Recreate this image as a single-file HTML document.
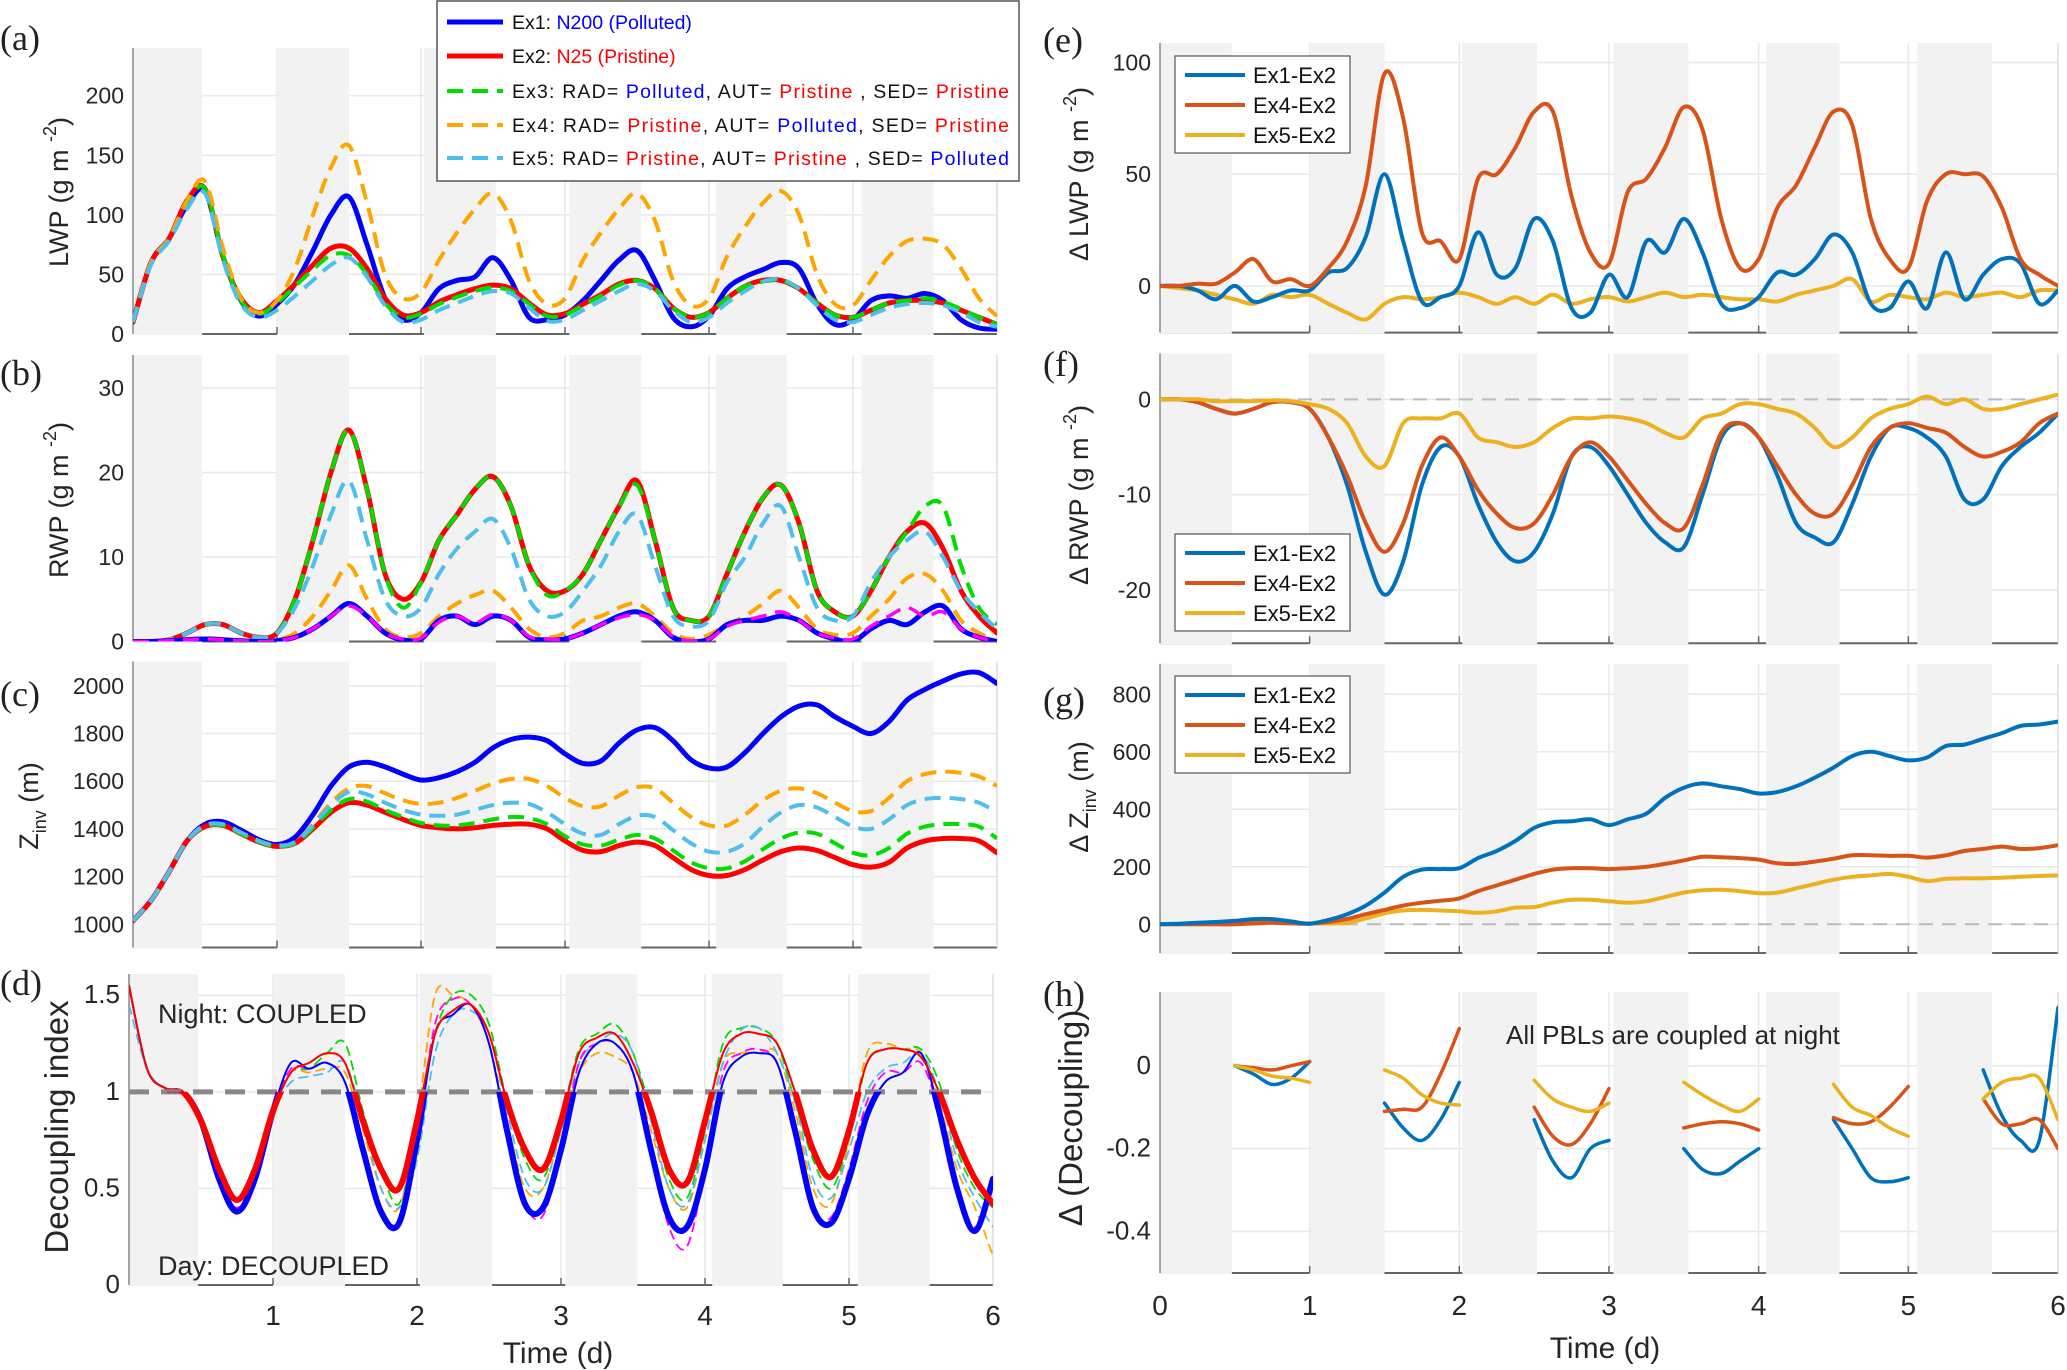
<!DOCTYPE html>
<html><head><meta charset="utf-8">
<style>
html,body{margin:0;padding:0;background:#fff;}
svg{display:block;font-family:"Liberation Sans",sans-serif;}
</style></head>
<body>
<svg id="fig" width="2067" height="1370" viewBox="0 0 2067 1370" xmlns="http://www.w3.org/2000/svg"></svg>
<script>
const T=[0,0.125,0.25,0.375,0.5,0.625,0.75,0.875,1,1.125,1.25,1.375,1.5,1.625,1.75,1.875,2,2.125,2.25,2.375,2.5,2.625,2.75,2.875,3,3.125,3.25,3.375,3.5,3.625,3.75,3.875,4,4.125,4.25,4.375,4.5,4.625,4.75,4.875,5,5.125,5.25,5.375,5.5,5.625,5.75,5.875,6];
const nightBands=[[0,0.48],[1,1.5],[2.02,2.52],[3.03,3.53],[4.05,4.54],[5.06,5.56]];
// (a) LWP
const aEx1=[10,60,80,108,120,65,28,15,25,42,70,100,115,75,30,12,18,38,45,48,64,45,14,12,16,28,45,62,70,45,14,6,15,38,48,54,60,55,25,8,12,28,32,30,34,28,12,5,4];
const aEx2=[10,60,80,112,122,65,30,18,28,42,58,72,72,55,30,16,18,27,33,38,41,38,26,16,17,25,33,42,45,38,22,14,18,30,40,45,45,38,26,16,14,20,26,28,28,26,20,14,8];
const aEx3=[10,60,80,110,122,66,28,17,26,40,54,66,66,50,26,14,17,25,31,36,39,36,25,15,16,24,32,41,45,38,22,14,18,30,40,44,45,38,26,16,14,20,26,28,30,27,21,14,8];
const aEx4=[10,60,80,112,128,72,30,18,28,55,100,140,158,110,50,30,35,62,85,105,118,95,45,25,30,62,85,105,118,95,45,24,30,65,90,110,120,100,50,25,24,45,65,78,80,75,55,30,15];
const aEx5=[10,58,78,105,118,62,25,14,20,32,45,58,64,48,24,10,12,20,26,32,36,34,22,11,12,20,28,36,42,36,20,10,14,26,36,44,46,38,24,12,10,16,22,25,26,24,18,10,6];
const aTicks=[0,50,100,150,200];
// (b) RWP
const bEx1=[0,0,0.1,0.2,0.3,0.2,0.1,0,0.1,0.5,1.5,3,4.5,3,1,0.2,0.3,2.5,3,2,3,2.5,0.5,0.2,0.3,1,2,3,3.5,2.5,0.5,0,0.3,2,2.5,2.5,3,2.5,1,0.3,0,1.5,2.5,2,3.5,4.2,1.5,0.5,0];
const bMag=[0,0,0.1,0.2,0.3,0.2,0.1,0,0.1,0.5,1.5,3,4.2,3,1,0.3,0.4,2.3,3,2.2,3.2,2.5,0.6,0.3,0.3,1,2,2.8,3.2,2.5,0.6,0.1,0.3,1.8,2.5,3,3.5,2.5,1,0.4,0.3,1.8,3,4,3,3.5,1.5,0.5,0];
const bEx2=[0,0,0.2,1,2,2,1,0.5,1,5,12,20,25,18,8,5,7,12,15,18,19.5,16,9,6,6,8,12,16,19,12,4,2.5,3,8,13,17,18.5,14,6,3.5,3,6,10,13,14,11,6,3,1];
const bEx3=[0,0,0.2,1,2,2,1,0.5,1,5,12,20,25,18,8,4,7,12,15,18,19.5,16,9,5.5,6,8,12,16,18.5,12,4,2.5,3,8,13,17,18.5,14,6,3.5,3,6,10,13,16,16,9,4,2];
const bEx4=[0,0,0.1,0.3,0.4,0.3,0.1,0,0.2,1,3,6,9,5,1.5,0.5,1,3,4.5,5.5,6,4,1.5,0.5,1,2.5,3,4,4.5,3,1,0.3,0.8,2,3,4.5,6,4,1.5,0.8,1,3,5,7.5,8,6,2.5,1,0];
const bEx5=[0,0,0.2,1,2,2,1,0.5,1,4,9,15,19,12,5,3,4,8,11,13,14.5,11,5,3,3.5,6,9,13,15,9,3,1.8,2.5,7,10,14,16,10,4,2.5,3,7,10,12,13,10,6,3.5,1.5];
const bTicks=[0,10,20,30];
// (c) Zinv
const cEx1=[1015,1100,1220,1350,1420,1430,1395,1355,1335,1365,1460,1580,1660,1680,1660,1630,1605,1615,1640,1680,1740,1775,1785,1770,1715,1675,1685,1760,1815,1825,1770,1690,1655,1660,1720,1800,1870,1915,1920,1870,1830,1800,1850,1940,1985,2020,2050,2055,2010];
const cEx2=[1015,1100,1220,1350,1410,1415,1380,1345,1327,1340,1400,1470,1510,1500,1470,1440,1415,1405,1400,1405,1415,1420,1420,1400,1350,1310,1305,1330,1345,1330,1280,1230,1205,1205,1230,1270,1305,1320,1310,1280,1250,1240,1260,1320,1350,1360,1360,1350,1300];
const cEx3=[1015,1100,1220,1350,1410,1415,1380,1345,1327,1340,1405,1480,1525,1515,1480,1450,1425,1415,1415,1425,1440,1450,1445,1420,1370,1335,1330,1355,1375,1360,1310,1260,1235,1235,1265,1315,1360,1385,1380,1340,1300,1290,1320,1380,1410,1420,1420,1410,1360];
const cEx4=[1015,1100,1220,1350,1415,1420,1385,1350,1330,1345,1420,1510,1570,1580,1550,1520,1505,1510,1530,1560,1590,1610,1610,1580,1530,1495,1495,1540,1575,1570,1510,1450,1415,1415,1460,1520,1560,1570,1550,1510,1475,1475,1530,1600,1630,1640,1635,1620,1580];
const cEx5=[1015,1100,1220,1350,1415,1420,1385,1350,1330,1345,1415,1500,1555,1545,1510,1480,1460,1455,1460,1480,1500,1510,1505,1470,1420,1380,1375,1420,1455,1450,1395,1340,1305,1305,1340,1410,1470,1500,1490,1450,1410,1400,1440,1500,1525,1530,1525,1510,1470];
const cTicks=[1000,1200,1400,1600,1800,2000];
// (d) Decoupling index
const dEx1=[1.55,1.12,1.02,1.0,0.85,0.55,0.38,0.55,0.9,1.15,1.12,1.15,1.05,0.7,0.38,0.32,0.75,1.3,1.4,1.45,1.25,0.8,0.42,0.4,0.7,1.1,1.25,1.25,1.1,0.7,0.35,0.3,0.6,1.05,1.18,1.2,1.15,0.8,0.4,0.32,0.55,0.88,1.05,1.1,1.2,0.9,0.5,0.28,0.55];
const dEx2=[1.55,1.12,1.02,1.0,0.85,0.6,0.44,0.6,0.9,1.1,1.15,1.2,1.15,0.85,0.6,0.5,0.85,1.3,1.42,1.45,1.3,0.95,0.7,0.6,0.85,1.2,1.28,1.3,1.15,0.9,0.6,0.53,0.85,1.2,1.3,1.3,1.25,1.0,0.7,0.56,0.8,1.15,1.22,1.22,1.18,1.0,0.75,0.55,0.42];
const dEx3=[1.55,1.12,1.02,1.0,0.85,0.6,0.44,0.6,0.9,1.1,1.12,1.2,1.25,0.9,0.6,0.42,0.8,1.3,1.5,1.5,1.35,0.95,0.65,0.55,0.85,1.22,1.3,1.35,1.2,0.9,0.55,0.45,0.8,1.25,1.33,1.33,1.25,0.95,0.65,0.5,0.75,1.15,1.22,1.22,1.22,1.05,0.7,0.5,0.4];
const dEx4=[1.55,1.12,1.02,1.0,0.85,0.6,0.44,0.6,0.9,1.1,1.1,1.12,1.1,0.8,0.5,0.4,0.85,1.5,1.5,1.45,1.25,0.85,0.5,0.5,0.8,1.1,1.2,1.18,1.1,0.8,0.5,0.4,0.75,1.15,1.2,1.2,1.2,0.9,0.5,0.42,0.75,1.2,1.25,1.22,1.2,0.95,0.6,0.4,0.15];
const dEx5=[1.45,1.12,1.02,1.0,0.85,0.6,0.44,0.6,0.9,1.05,1.08,1.1,1.15,0.85,0.5,0.4,0.65,1.2,1.4,1.42,1.3,0.9,0.55,0.5,0.8,1.15,1.25,1.3,1.2,0.85,0.5,0.42,0.75,1.15,1.32,1.33,1.2,0.95,0.55,0.45,0.7,1.0,1.12,1.15,1.2,1.0,0.65,0.45,0.3];
const dMag=[1.55,1.12,1.02,1.0,0.85,0.55,0.4,0.55,0.9,1.12,1.12,1.15,1.05,0.7,0.4,0.33,0.75,1.35,1.48,1.45,1.25,0.8,0.42,0.36,0.7,1.15,1.25,1.25,1.1,0.7,0.3,0.2,0.6,1.1,1.2,1.22,1.15,0.8,0.4,0.35,0.6,0.95,1.1,1.1,1.15,0.9,0.5,0.3,0.5];
const dTicks=[0,0.5,1,1.5];
const dTickLabels=["0","0.5","1","1.5"];
// (e) dLWP
const eEx1=[0,0,-2,-6,0,-7,-5,-2,-2,6,8,22,50,20,-7,-5,0,24,5,8,30,20,-10,-12,5,-5,20,15,30,15,-8,-10,-5,6,5,12,23,15,-8,-10,2,-10,15,-6,5,12,10,-8,-2];
const eEx4=[0,0,1,1,6,12,2,3,0,8,20,45,95,75,24,20,12,48,50,62,78,78,40,15,10,42,48,62,80,70,30,8,12,35,45,62,78,72,30,12,8,38,50,50,49,35,12,5,0];
const eEx5=[0,-1,-2,-4,-6,-8,-4,-5,-4,-8,-12,-15,-8,-5,-6,-5,-3,-5,-8,-5,-8,-4,-8,-6,-5,-7,-5,-3,-5,-4,-5,-6,-6,-7,-4,-2,0,3,-7,-4,-5,-6,-3,-5,-4,-3,-5,-2,-2];
const eTicks=[0,50,100];
// (f) dRWP
const fEx1=[0,0,-0.3,-1,-1.5,-1,-0.3,-0.3,-1,-4,-9,-16,-20.5,-17,-9,-5,-6,-11,-15,-17,-16,-12,-6,-5,-7,-10,-13,-15,-15.5,-10,-4,-2.5,-4,-8,-13,-14.5,-15,-11,-6,-3,-3,-4,-6,-10.5,-10.5,-7,-5,-3.5,-1.5];
const fEx4=[0,0,-0.3,-1,-1.5,-1,-0.3,-0.3,-1,-4,-8,-13,-16,-13,-7,-4,-6,-9.5,-12,-13.5,-13,-10,-6,-4.5,-6,-8.5,-11,-13,-13.5,-9,-3.5,-2.5,-4,-7,-10,-12,-12,-9,-5,-3,-2.5,-3,-3.5,-5,-6,-5.5,-4.5,-2.5,-1.5];
const fEx5=[0,0,0,-0.2,-0.2,-0.2,-0.1,-0.2,-0.5,-1,-2.5,-6,-7,-2.5,-2,-2,-1.5,-4,-4.5,-5,-4.5,-3,-2,-2,-1.8,-2,-2.5,-3.5,-4,-2,-1.5,-0.5,-0.5,-1,-1.5,-3,-5,-4,-2,-1,-0.5,0.3,-0.5,0,-1,-1,-0.5,0,0.5];
const fTicks=[-20,-10,0];
// (g) dZinv
const gEx1=[0,2,5,8,12,18,18,10,2,15,35,65,110,165,190,192,195,230,255,290,335,355,358,365,345,365,385,440,475,490,480,470,455,460,480,510,545,585,600,585,570,580,620,625,645,665,690,695,705];
const gEx4=[0,0,0,0,0,3,5,3,2,8,18,35,50,65,75,82,90,115,135,155,175,190,195,195,192,195,200,210,222,235,233,230,225,212,210,218,228,240,240,238,238,232,240,255,262,270,262,265,275];
const gEx5=[0,0,0,2,5,8,8,5,3,3,5,20,38,48,50,48,45,40,45,58,60,75,85,85,80,75,80,95,110,118,120,115,108,110,125,140,155,165,170,175,165,150,158,160,160,162,165,168,170];
const gTicks=[0,200,400,600,800];
// (h) dDecoupling (daytime only)
const hEx1=[null,null,null,null,0,-0.02,-0.045,-0.03,0.01,null,null,null,-0.09,-0.15,-0.18,-0.13,-0.04,null,null,null,-0.13,-0.23,-0.27,-0.2,-0.18,null,null,null,-0.2,-0.25,-0.26,-0.23,-0.2,null,null,null,-0.13,-0.2,-0.27,-0.28,-0.27,null,null,null,-0.01,-0.12,-0.18,-0.18,0.14];
const hEx4=[null,null,null,null,0,-0.005,-0.01,0,0.01,null,null,null,-0.11,-0.105,-0.1,-0.02,0.09,null,null,null,-0.1,-0.17,-0.19,-0.14,-0.055,null,null,null,-0.15,-0.14,-0.135,-0.14,-0.155,null,null,null,-0.125,-0.14,-0.135,-0.1,-0.05,null,null,null,-0.08,-0.14,-0.14,-0.13,-0.2];
const hEx5=[null,null,null,null,0,-0.01,-0.025,-0.03,-0.04,null,null,null,-0.01,-0.03,-0.07,-0.09,-0.095,null,null,null,-0.035,-0.08,-0.1,-0.11,-0.09,null,null,null,-0.04,-0.07,-0.095,-0.11,-0.08,null,null,null,-0.045,-0.1,-0.12,-0.15,-0.17,null,null,null,-0.08,-0.04,-0.03,-0.03,-0.13];
const hTicks=[-0.4,-0.2,0];
const xTicks=[0,1,2,3,4,5,6];

const NS="http://www.w3.org/2000/svg";
const svg=document.getElementById('fig');
const defs=document.createElementNS(NS,'defs');svg.appendChild(defs);
function mk(tag,attrs,parent){const e=document.createElementNS(NS,tag);for(const k in attrs)e.setAttribute(k,attrs[k]);(parent||svg).appendChild(e);return e;}

function makeAxes(p){
  p.sx=t=>p.x0+(t-0)/(6-0)*(p.x1-p.x0);
  p.sy=v=>p.top+(p.ymax-v)/(p.ymax-p.ymin)*(p.bot-p.top);
  const g=mk('g',{});
  
  
  mk('rect',{x:p.x0,y:p.top,width:p.x1-p.x0,height:p.bot-p.top,fill:'#fff'},g);
  // grid
  p.ticks.forEach(v=>{mk('line',{x1:p.x0,x2:p.x1,y1:p.sy(v),y2:p.sy(v),stroke:'#e8e8e8','stroke-width':1.5},g);});
  [1,2,3,4,5].forEach(t=>{mk('line',{x1:p.sx(t),x2:p.sx(t),y1:p.top,y2:p.bot,stroke:'#e8e8e8','stroke-width':1.5},g);});
  // bottom axis line
  mk('line',{x1:p.x0,x2:p.x1,y1:p.bot,y2:p.bot,stroke:'#666','stroke-width':2},g);
  nightBands.forEach(b=>{
    const r=mk('rect',{x:p.sx(b[0]),y:p.top,width:p.sx(b[1])-p.sx(b[0]),height:p.bot-p.top+1,fill:'#f2f2f2'},g);
    
    
  });
  [1,2,3,4,5].forEach(t=>{mk('line',{x1:p.sx(t),x2:p.sx(t),y1:p.bot,y2:p.bot-7,stroke:'#666','stroke-width':1.5},g);});
  mk('line',{x1:p.x0,x2:p.x0,y1:p.top,y2:p.bot,stroke:'#888','stroke-width':1.5},g);
  mk('line',{x1:p.x1,x2:p.x1,y1:p.top,y2:p.bot,stroke:'#ccc','stroke-width':1},g);
  // y tick labels
  p.ticks.forEach((v,i)=>{
    const t=mk('text',{x:p.x0-9,y:p.sy(v)+8,'text-anchor':'end','font-size':p.tfs||23,fill:'#262626'},g);
    
    
    t.textContent=p.tlabels?p.tlabels[i]:String(v);
  });
  const cp=mk('clipPath',{id:'clip-'+p.name},defs);
  mk('rect',{x:p.x0,y:p.top,width:p.x1-p.x0,height:p.bot-p.top},cp);
  if(p.dcp){const cp2=mk('clipPath',{id:'clipb-'+p.name},defs);mk('rect',{x:p.x0,y:p.sy(1),width:p.x1-p.x0,height:p.bot-p.sy(1)},cp2);}
  return g;
}
function pathFor(p,vals){
  let d='';let seg=[];const segs=[];
  vals.forEach((v,i)=>{if(v===null||v===undefined){if(seg.length)segs.push(seg);seg=[];}else seg.push([p.sx(T[i]),p.sy(v)]);});
  if(seg.length)segs.push(seg);
  segs.forEach(s=>{
    d+='M'+s[0][0].toFixed(1)+','+s[0][1].toFixed(1);
    for(let i=0;i<s.length-1;i++){
      const p0=s[Math.max(0,i-1)],p1=s[i],p2=s[i+1],p3=s[Math.min(s.length-1,i+2)];
      const c1x=p1[0]+(p2[0]-p0[0])/6,c1y=p1[1]+(p2[1]-p0[1])/6;
      const c2x=p2[0]-(p3[0]-p1[0])/6,c2y=p2[1]-(p3[1]-p1[1])/6;
      d+='C'+c1x.toFixed(1)+','+c1y.toFixed(1)+' '+c2x.toFixed(1)+','+c2y.toFixed(1)+' '+p2[0].toFixed(1)+','+p2[1].toFixed(1);
    }
  });
  return d;
}
function line(p,vals,color,w,dash,name,clip){
  const e=mk('path',{d:pathFor(p,vals),fill:'none',stroke:color,'stroke-width':w,'stroke-linejoin':'round','stroke-linecap':dash?'butt':'round','clip-path':'url(#'+(clip||('clip-'+p.name))+')'});
  if(dash)e.setAttribute('stroke-dasharray',dash);
  
  
  return e;
}
function hline(p,v,color,w,dash,name){
  const e=mk('line',{x1:p.x0,x2:p.x1,y1:p.sy(v),y2:p.sy(v),stroke:color,'stroke-width':w,'stroke-dasharray':dash});
  
  
}
function text(x,y,s,fs,opts,name){
  const t=mk('text',Object.assign({x:x,y:y,'font-size':fs,fill:'#262626'},opts||{}));
  
  
  t.innerHTML=s;return t;
}
function ylabel(x,y,html,fs,name){
  const t=mk('text',{x:0,y:0,'font-size':fs,fill:'#262626','text-anchor':'middle',transform:'translate('+x+','+y+') rotate(-90)'});
  
  
  t.innerHTML=html;
}
const BL='#0000ff',RD='#ff0000',GR='#00dd00',OR='#ffa500',LB='#4dbeee',MG='#ff00ff';
const C1='#0072bd',C2='#d95319',C3='#edb120';
const DS='16 9';

// Panel a
const pa={name:'panel-a',x0:133,x1:997,top:48,bot:334,ymin:0,ymax:240,ticks:aTicks};
makeAxes(pa);
line(pa,aEx1,BL,5,null,'lwp-ex1-line');line(pa,aEx2,RD,5,null,'lwp-ex2-line');
line(pa,aEx3,GR,4,DS,'lwp-ex3-line');line(pa,aEx4,OR,4,DS,'lwp-ex4-line');line(pa,aEx5,LB,4,DS,'lwp-ex5-line');
// Panel b
const pb={name:'panel-b',x0:133,x1:997,top:355,bot:641.5,ymin:0,ymax:33.9,ticks:bTicks};
makeAxes(pb);
line(pb,bEx2,RD,5,null,'rwp-ex2-line');line(pb,bEx3,GR,4,DS,'rwp-ex3-line');line(pb,bEx5,LB,4,DS,'rwp-ex5-line');
line(pb,bEx4,OR,4,DS,'rwp-ex4-line');line(pb,bEx1,BL,5,null,'rwp-ex1-line');line(pb,bMag,MG,3.5,DS,'rwp-magenta-line');
// Panel c
const pc={name:'panel-c',x0:133,x1:997,top:661.5,bot:947.5,ymin:903,ymax:2102,ticks:cTicks};
makeAxes(pc);
line(pc,cEx1,BL,5,null,'zinv-ex1-line');line(pc,cEx2,RD,5,null,'zinv-ex2-line');
line(pc,cEx3,GR,4,DS,'zinv-ex3-line');line(pc,cEx4,OR,4,DS,'zinv-ex4-line');line(pc,cEx5,LB,4,DS,'zinv-ex5-line');
// Panel d
const pd={name:'panel-d',x0:129,x1:993,top:974,bot:1285,ymin:0,ymax:1.61,ticks:dTicks,tlabels:dTickLabels,tfs:26,dcp:true};
makeAxes(pd);
line(pd,dEx3,GR,1.8,'10 5','dec-ex3-line');line(pd,dEx4,OR,1.8,'10 5','dec-ex4-line');line(pd,dEx5,LB,1.8,'10 5','dec-ex5-line');
line(pd,dMag,MG,1.8,'10 5','dec-magenta-line');line(pd,dEx1,BL,2,null,'dec-ex1-thin-line');line(pd,dEx2,RD,2,null,'dec-ex2-thin-line');
hline(pd,1,'#888',5,'20 12','coupling-threshold-line');
line(pd,dEx1,BL,6,null,'dec-ex1-line','clipb-panel-d');line(pd,dEx2,RD,6,null,'dec-ex2-line','clipb-panel-d');
text(158,1023,'Night: COUPLED',27,{},'night-coupled-annotation');
text(158,1275,'Day: DECOUPLED',27,{},'day-decoupled-annotation');
xTicks.slice(1).forEach(t=>text(pd.sx(t),1325,String(t),28,{'text-anchor':'middle'},'x-tick-label'));
text(558,1363,'Time (d)',30,{'text-anchor':'middle'},'x-axis-title-left');

// Right panels
const pe={name:'panel-e',x0:1160,x1:2058,top:43,bot:332.6,ymin:-20.9,ymax:108.7,ticks:eTicks};
makeAxes(pe);
line(pe,eEx5,C3,4,null,'dlwp-ex5-line');line(pe,eEx1,C1,4,null,'dlwp-ex1-line');line(pe,eEx4,C2,4,null,'dlwp-ex4-line');
const pf={name:'panel-f',x0:1160,x1:2058,top:353.6,bot:643.3,ymin:-25.6,ymax:4.8,ticks:fTicks};
makeAxes(pf);
hline(pf,0,'#bbb',2,'14 9','zero-line-f');
line(pf,fEx1,C1,4,null,'drwp-ex1-line');line(pf,fEx4,C2,4,null,'drwp-ex4-line');line(pf,fEx5,C3,4,null,'drwp-ex5-line');
const pg={name:'panel-g',x0:1160,x1:2058,top:663.8,bot:953,ymin:-100,ymax:906,ticks:gTicks};
makeAxes(pg);
hline(pg,0,'#bbb',2,'14 9','zero-line-g');
line(pg,gEx5,C3,4,null,'dzinv-ex5-line');line(pg,gEx4,C2,4,null,'dzinv-ex4-line');line(pg,gEx1,C1,4,null,'dzinv-ex1-line');
const ph={name:'panel-h',x0:1160,x1:2058,top:992,bot:1273,ymin:-0.5,ymax:0.178,ticks:hTicks,tfs:26};
makeAxes(ph);
line(ph,hEx1,C1,3.5,null,'ddec-ex1-line');line(ph,hEx4,C2,3.5,null,'ddec-ex4-line');line(ph,hEx5,C3,3.5,null,'ddec-ex5-line');
text(1506,1044,'All PBLs are coupled at night',26,{},'coupled-at-night-annotation');
xTicks.forEach(t=>text(ph.sx(t),1315,String(t),28,{'text-anchor':'middle'},'x-tick-label'));
text(1605,1358,'Time (d)',30,{'text-anchor':'middle'},'x-axis-title-right');

// Y labels
ylabel(68,192,'LWP  (g m <tspan dy="-12" font-size="18">-2</tspan><tspan dy="12">)</tspan>',27,'lwp-y-axis-title');
ylabel(68,500,'RWP  (g m <tspan dy="-12" font-size="18">-2</tspan><tspan dy="12">)</tspan>',27,'rwp-y-axis-title');
ylabel(38,806,'Z<tspan dy="8" font-size="18">inv</tspan><tspan dy="-8"> (m)</tspan>',27,'zinv-y-axis-title');
ylabel(68,1127,'Decoupling index',33,'decoupling-y-axis-title');
ylabel(1088,174,'Δ LWP  (g m <tspan dy="-12" font-size="18">-2</tspan><tspan dy="12">)</tspan>',27,'dlwp-y-axis-title');
ylabel(1088,495,'Δ RWP  (g m <tspan dy="-12" font-size="18">-2</tspan><tspan dy="12">)</tspan>',27,'drwp-y-axis-title');
ylabel(1088,797,'Δ Z<tspan dy="8" font-size="18">inv</tspan><tspan dy="-8">   (m)</tspan>',27,'dzinv-y-axis-title');
ylabel(1082,1118,'Δ (Decoupling)',33,'ddec-y-axis-title');

// panel letters
[['(a)',0,50],['(b)',0,385],['(c)',0,706],['(d)',0,995],['(e)',1043,52],['(f)',1043,376],['(g)',1043,712],['(h)',1043,1006]].forEach(a=>{
  text(a[1],a[2],a[0],36,{'font-family':'Liberation Serif, serif',fill:'#222'},'panel-label');
});

// Legend (a)
const lg=mk('g',{});


mk('rect',{x:437,y:1,width:582,height:180,fill:'#fff',stroke:'#555','stroke-width':1.5},lg);
const legRows=[
 [BL,null,5,'Ex1:  <tspan fill="#0000ff">N200 (Polluted)</tspan>'],
 [RD,null,5,'Ex2:  <tspan fill="#ff0000">N25   (Pristine)</tspan>'],
 [GR,DS,4,'Ex3: RAD=  <tspan fill="#0000ff">Polluted</tspan>, AUT=  <tspan fill="#ff0000">Pristine</tspan> , SED= <tspan fill="#ff0000">Pristine</tspan>'],
 [OR,DS,4,'Ex4: RAD=  <tspan fill="#ff0000">Pristine</tspan>,  AUT=  <tspan fill="#0000ff">Polluted</tspan>, SED= <tspan fill="#ff0000">Pristine</tspan>'],
 [LB,DS,4,'Ex5: RAD=  <tspan fill="#ff0000">Pristine</tspan>,  AUT=  <tspan fill="#ff0000">Pristine</tspan> , SED= <tspan fill="#0000ff">Polluted</tspan>']];
const legY=[22,56,91,125,158];
legRows.forEach((r,i)=>{
  const l=mk('line',{x1:447,x2:503,y1:legY[i],y2:legY[i],stroke:r[0],'stroke-width':r[2]},lg);
  if(r[1])l.setAttribute('stroke-dasharray','16 9');
  
  
  const t=mk('text',{x:512,y:legY[i]+7,'font-size':19.5,fill:'#111',textLength:i<2?0:497},lg);
  if(i<2)t.removeAttribute('textLength');
  
  
  t.innerHTML=r[3];
});
// small legends
function smallLegend(x,y,rows,name){
  const g=mk('g',{});
  
  
  mk('rect',{x:x,y:y,width:175,height:97,fill:'#fff',stroke:'#555','stroke-width':1.2},g);
  rows.forEach((r,i)=>{
    const yy=y+19+i*30;
    mk('line',{x1:x+10,x2:x+70,y1:yy,y2:yy,stroke:r[0],'stroke-width':4},g);
    const t=mk('text',{x:x+78,y:yy+8,'font-size':22,fill:'#111'},g);
    
    
    t.textContent=r[1];
  });
}
const srows=[[C1,'Ex1-Ex2'],[C2,'Ex4-Ex2'],[C3,'Ex5-Ex2']];
smallLegend(1175,56,srows,'legend-e');
smallLegend(1175,534,srows,'legend-f');
smallLegend(1175,676,srows,'legend-g');
</script>
</body></html>
